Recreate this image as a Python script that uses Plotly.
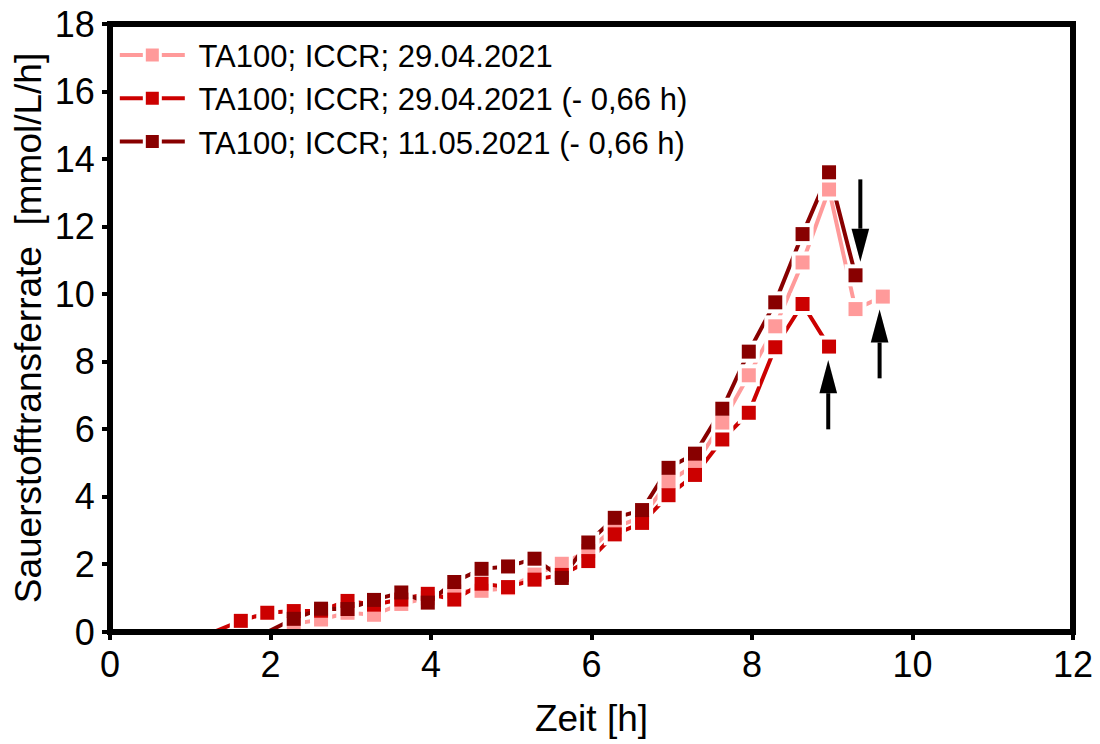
import plotly.graph_objects as go

# ---- data ----
series_names = [
    "TA100; ICCR; 29.04.2021",
    "TA100; ICCR; 29.04.2021 (- 0,66 h)",
    "TA100; ICCR; 11.05.2021 (- 0,66 h)",
]
pink_t = [2.29, 2.63, 2.96, 3.29, 3.63, 3.96, 4.29, 4.63, 4.96, 5.29, 5.63, 5.96,
          6.29, 6.63, 6.96, 7.29, 7.63, 7.96, 8.29, 8.63, 8.96, 9.29, 9.63]
pink_v = [0.24, 0.37, 0.57, 0.51, 0.83, 1.00, 1.20, 1.22, 1.30, 1.70, 2.02, 2.40,
          3.10, 3.40, 4.45, 4.95, 6.20, 7.60, 9.05, 10.94, 13.10, 9.56, 9.93]

red_t = [1.29, 1.63, 1.96, 2.29, 2.63, 2.96, 3.29, 3.63, 3.96, 4.29, 4.63, 4.96,
         5.29, 5.63, 5.96, 6.29, 6.63, 6.96, 7.29, 7.63, 7.96, 8.29, 8.63, 8.96]
red_v = [0.0, 0.33, 0.57, 0.62, 0.63, 0.92, 0.81, 0.96, 1.13, 0.96, 1.43, 1.33,
         1.55, 1.69, 2.10, 2.89, 3.23, 4.05, 4.65, 5.70, 6.49, 8.43, 9.71, 8.45]

dark_t = [1.96, 2.29, 2.63, 2.96, 3.29, 3.63, 3.96, 4.29, 4.63, 4.96, 5.29, 5.63,
          5.96, 6.29, 6.63, 6.96, 7.29, 7.63, 7.96, 8.29, 8.63, 8.96, 9.29]
dark_v = [0.0, 0.39, 0.69, 0.68, 0.95, 1.17, 0.87, 1.48, 1.87, 1.94, 2.17, 1.60,
          2.65, 3.38, 3.61, 4.86, 5.28, 6.61, 8.30, 9.76, 11.78, 13.61, 10.56]

# arrows: (x, y_tail, y_tip)
arrows = [(9.35, 13.40, 10.96), (8.95, 6.00, 8.05), (9.59, 7.51, 9.55)]

x_ticks = [0, 2, 4, 6, 8, 10, 12]
y_ticks = [0, 2, 4, 6, 8, 10, 12, 14, 16, 18]

colors = ["#FF9A9A", "#CC0000", "#880000"]
series = [(pink_t, pink_v), (red_t, red_v), (dark_t, dark_v)]

FONT = "Liberation Sans, Arial, sans-serif"
fig = go.Figure()

# legend-only traces
for name, c in zip(series_names, colors):
    fig.add_trace(go.Scatter(
        x=[None], y=[None], name="\u00a0" + name, mode="lines+markers",
        line=dict(color=c, width=4),
        marker=dict(symbol="square", size=16, color=c, line=dict(color="white", width=3)),
    ))

# lines
for (t, v), c in zip(series, colors):
    fig.add_trace(go.Scatter(x=t, y=v, mode="lines", showlegend=False,
                             line=dict(color=c, width=4), hoverinfo="skip"))
# white gaps around markers
for (t, v), c in zip(series, colors):
    tt = [a for a, b in zip(t, v) if b > 0]
    vv = [b for b in v if b > 0]
    fig.add_trace(go.Scatter(x=tt, y=vv, mode="markers", showlegend=False,
                             marker=dict(symbol="square", size=22, color="white"),
                             hoverinfo="skip"))
# coloured markers
for (t, v), c in zip(series, colors):
    tt = [a for a, b in zip(t, v) if b > 0]
    vv = [b for b in v if b > 0]
    fig.add_trace(go.Scatter(x=tt, y=vv, mode="markers", showlegend=False,
                             marker=dict(symbol="square", size=14, color=c)))

shapes = []
# frame
shapes.append(dict(type="rect", xref="paper", yref="paper", x0=0, x1=1, y0=0, y1=1,
                   line=dict(color="black", width=6), layer="above"))
# arrows
HEAD_L = 0.98   # y-units
HEAD_W = 0.11   # x-units (half width)
for x, y0, y1 in arrows:
    d = 1 if y1 > y0 else -1
    base = y1 - d * HEAD_L
    shapes.append(dict(type="line", xref="x", yref="y", x0=x, x1=x, y0=y0, y1=base,
                       line=dict(color="black", width=4)))
    shapes.append(dict(type="path", xref="x", yref="y",
                       path=f"M {x-HEAD_W},{base} L {x+HEAD_W},{base} L {x},{y1} Z",
                       fillcolor="black", line=dict(color="black", width=0)))

fig.update_layout(
    width=1092, height=736,
    margin=dict(l=102, r=27, t=16, b=112),
    paper_bgcolor="white", plot_bgcolor="white",
    font=dict(family=FONT, color="black"),
    shapes=shapes,
    legend=dict(x=0.005, y=0.993, xanchor="left", yanchor="top",
                bgcolor="rgba(0,0,0,0)", font=dict(size=31, family=FONT),
                itemwidth=65, tracegroupgap=0),
    xaxis=dict(range=[0, 12], tickvals=x_ticks, ticks="outside", ticklen=7, tickwidth=4,
               tickcolor="black", showgrid=False, zeroline=False, showline=False,
               automargin=False, ticklabelstandoff=-6, ticklabeloverflow="allow",
               tickfont=dict(size=36, family=FONT),
               title=dict(text="Zeit [h]", font=dict(size=37, family=FONT), standoff=20)),
    yaxis=dict(range=[0, 18], tickvals=y_ticks, ticks="outside", ticklen=7, tickwidth=4,
               tickcolor="black", showgrid=False, zeroline=False, showline=False,
               automargin=False, ticklabeloverflow="allow",
               tickfont=dict(size=36, family=FONT),
               title=dict(text="Sauerstofftransferrate  [mmol/L/h]",
                          font=dict(size=37, family=FONT), standoff=4)),
)

fig.write_html("out.html")
